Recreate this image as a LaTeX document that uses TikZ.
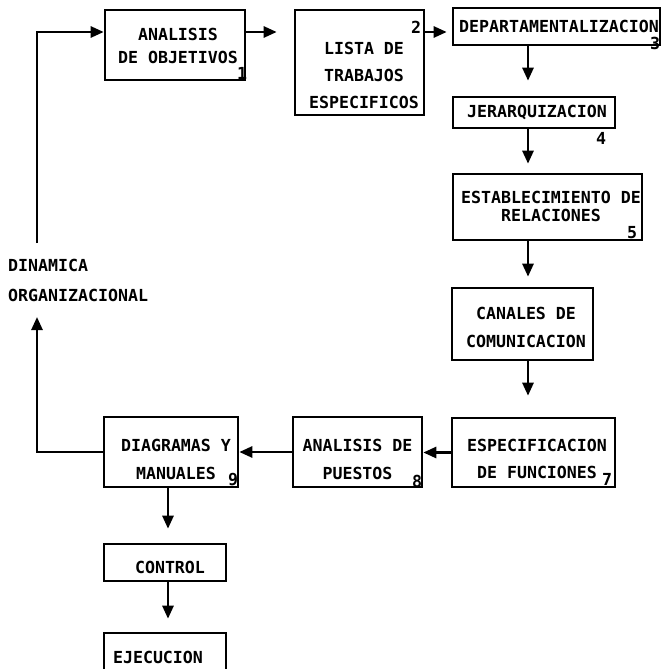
\documentclass[tikz,border=0pt]{standalone}
\usepackage{fontspec}
\newfontfamily\letra{DejaVu Sans Mono}
\newcommand{\tipo}{\letra\bfseries\fontsize{16.6}{20}\selectfont}
\usetikzlibrary{arrows.meta}
\tikzset{caja/.style={draw, line width=2.6pt, inner sep=0pt},
  texto/.style={font=\tipo, align=center, inner sep=0pt},
  num/.style={font=\tipo, inner sep=0pt},
  flecha/.style={-{Triangle[length=13pt,width=11pt]}, line width=2.6pt}}

\begin{document}
\begin{tikzpicture}[x=1pt, y=-1pt]
\useasboundingbox (0,0) rectangle (664,669);
\clip (0,0) rectangle (664,669);
% cajas
\node[caja, minimum width=140pt, minimum height=70pt] (obj) at (175,45) {};
\node[caja, minimum width=129pt, minimum height=105pt] (lista) at (359.5,62.5) {};
\node[caja, minimum width=207pt, minimum height=37pt] (depto) at (556.5,26.5) {};
\node[caja, minimum width=162pt, minimum height=31pt] (jerar) at (534,112.5) {};
\node[caja, minimum width=189pt, minimum height=66pt] (relac) at (547.5,207) {};
\node[caja, minimum width=141pt, minimum height=72pt] (canal) at (522.5,324) {};
\node[caja, minimum width=163pt, minimum height=69pt] (funcs) at (533.5,452.5) {};
\node[caja, minimum width=129pt, minimum height=70pt] (puestos) at (357.5,452) {};
\node[caja, minimum width=134pt, minimum height=70pt] (diag) at (171,452) {};
\node[caja, minimum width=122pt, minimum height=37pt] (ctrl) at (165,562.5) {};
\node[caja, minimum width=122pt, minimum height=70pt] (ejec) at (165,668) {};
% textos
\node[texto] (tobj) at (178,45.5) {ANALISIS\\[3pt]DE OBJETIVOS};
\node[texto] (tlista) at (364,75) {LISTA DE\\[7pt]TRABAJOS\\[7pt]ESPECIFICOS};
\node[texto] (tdepto) at (559,26) {DEPARTAMENTALIZACION};
\node[texto] (tjerar) at (537,112) {JERARQUIZACION};
\node[texto] (trelac) at (551,206) {ESTABLECIMIENTO DE\\[-2pt]RELACIONES};
\node[texto] (tcanal) at (526,327) {CANALES DE\\[8pt]COMUNICACION};
\node[texto] (tfuncs) at (537,458.5) {ESPECIFICACION\\[7pt]DE FUNCIONES};
\node[texto] (tpuestos) at (357.5,459) {ANALISIS DE\\[8pt]PUESTOS};
\node[texto] (tdiag) at (176,459) {DIAGRAMAS Y\\[8pt]MANUALES};
\node[texto] (tctrl) at (170,567) {CONTROL};
\node[texto] (tejec) at (158,657) {EJECUCION};
\node[texto, align=left, anchor=west] (din) at (8,280) {DINAMICA\\[10pt]ORGANIZACIONAL};
% numeros
\node[num] (n1) at (242,73) {1};
\node[num] (n2) at (416,27) {2};
\node[num] (n3) at (655,43) {3};
\node[num] (n4) at (601,138) {4};
\node[num] (n5) at (632,233) {5};
\node[num] (n7) at (607,479) {7};
\node[num] (n8) at (417,481) {8};
\node[num] (n9) at (233,480) {9};
% flechas
\coordinate (eje) at (528,0);
\coordinate (eje2) at (168,0);
\coordinate (arr) at (37,32);
\coordinate (corte) at (37,243);
\coordinate (punta) at (37,317);
\draw[flecha] (corte) -- (arr) -- (obj.west |- arr);
\draw[flecha, shorten >=17pt] (obj.east |- arr) -- (lista.west |- arr);
\draw[flecha, shorten >=5pt] (lista.east |- arr) -- (depto.west |- arr);
\draw[flecha, shorten >=15pt] (depto.south -| eje) -- (jerar.north -| eje);
\draw[flecha, shorten >=9pt] (jerar.south -| eje) -- (relac.north -| eje);
\draw[flecha, shorten >=10pt] (relac.south -| eje) -- (canal.north -| eje);
\draw[flecha, shorten >=21pt] (canal.south -| eje) -- (funcs.north -| eje);
\draw[flecha] (funcs.west) -- (puestos.east |- funcs.west);
\draw[flecha] (puestos.west) -- (diag.east |- puestos.west);
\draw[flecha] (diag.west) -- (diag.west -| punta) -- (punta);
\draw[flecha, shorten >=14pt] (diag.south -| eje2) -- (ctrl.north -| eje2);
\draw[flecha, shorten >=13pt] (ctrl.south -| eje2) -- (ejec.north -| eje2);
\end{tikzpicture}
\end{document}
